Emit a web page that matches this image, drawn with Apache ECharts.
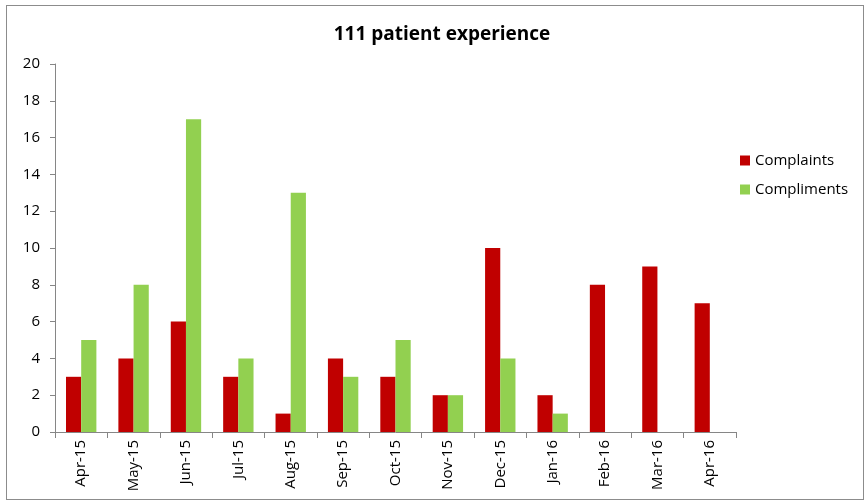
<!DOCTYPE html>
<html>
<head>
<meta charset="utf-8">
<script src="https://cdn.jsdelivr.net/npm/echarts@6/dist/echarts.min.js"></script>
<style>
  html, body { margin: 0; padding: 0; background: #ffffff; }
  #chart { width: 868px; height: 502px; }
  .frame { position: absolute; left: 6px; top: 5px; width: 856px; height: 493px; border: 1px solid #8c8c8c; pointer-events: none; }
</style>
</head>
<body>
<div id="chart"></div>
<div class="frame"></div>
<script>
// values
var months = ['Apr-15', 'May-15', 'Jun-15', 'Jul-15', 'Aug-15', 'Sep-15', 'Oct-15', 'Nov-15', 'Dec-15', 'Jan-16', 'Feb-16', 'Mar-16', 'Apr-16']
var complaints = [3, 4, 6, 3, 1, 4, 3, 2, 10, 2, 8, 9, 7]
var compliments = [5, 8, 17, 4, 13, 3, 5, 2, 4, 1, null, null, null]

var chart = echarts.init(document.getElementById('chart'))
var font = 'Open Sans, Liberation Sans, sans-serif'

var option = {
  animation: false,
  textStyle: { fontFamily: font },
  title: {
    text: '111 patient experience',
    left: 437,
    textAlign: 'center',
    top: 20,
    textStyle: { fontSize: 19, fontWeight: 'bold', color: '#000', fontFamily: font }
  },
  legend: {
    orient: 'vertical',
    left: 735,
    top: 148,
    itemWidth: 10,
    itemHeight: 10,
    itemGap: 14,
    icon: 'rect',
    textStyle: { fontSize: 15, color: '#000', fontFamily: font },
    data: ['Complaints', 'Compliments']
  },
  grid: { left: 55, right: 132, top: 64, bottom: 70 },
  xAxis: {
    type: 'category',
    data: months,
    axisLine: { lineStyle: { color: '#868686', width: 1 } },
    axisTick: { show: true, length: 6, alignWithLabel: false, lineStyle: { color: '#868686' } },
    axisLabel: { rotate: 90, fontSize: 15, color: '#000', margin: 8, interval: 0, fontFamily: font }
  },
  yAxis: {
    type: 'value',
    min: 0,
    max: 20,
    interval: 2,
    axisLine: { show: true, lineStyle: { color: '#868686', width: 1 } },
    axisTick: { show: true, length: 5, inside: false, lineStyle: { color: '#868686' } },
    axisLabel: { fontSize: 15, color: '#000', margin: 15, fontFamily: font },
    splitLine: { show: false }
  },
  series: [
    {
      name: 'Complaints',
      type: 'bar',
      data: complaints,
      barWidth: '29%',
      barGap: '0%',
      itemStyle: { color: '#c00000' }
    },
    {
      name: 'Compliments',
      type: 'bar',
      data: compliments,
      barWidth: '29%',
      itemStyle: { color: '#92d050' }
    }
  ]
}

chart.setOption(option)
</script>
</body>
</html>
